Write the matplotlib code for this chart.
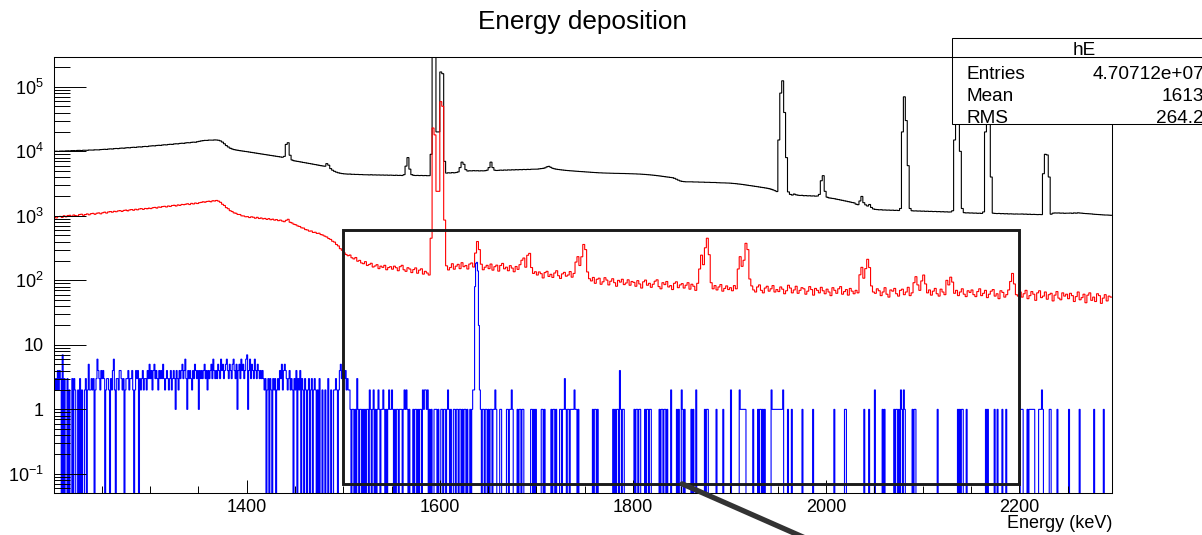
import numpy as np
import matplotlib
matplotlib.use("Agg")
import matplotlib.pyplot as plt
from matplotlib.ticker import FixedLocator, MultipleLocator, LogLocator, FuncFormatter, NullFormatter
from matplotlib.patches import Rectangle, ConnectionPatch
from matplotlib.lines import Line2D

plt.rcParams['font.family'] = ['Liberation Sans', 'DejaVu Sans']
plt.rcParams['mathtext.fontset'] = 'custom'
plt.rcParams['mathtext.rm'] = 'Liberation Sans'
plt.rcParams['mathtext.it'] = 'Liberation Sans:italic'
plt.rcParams['mathtext.bf'] = 'Liberation Sans:bold'

# ---------------- histogram binning ----------------
E_MIN = 1200          # keV, lower edge of first bin
BIN_WIDTH = 2         # keV, black and red spectra
BLUE_BIN_WIDTH = 1    # keV, coincidence spectrum

# ---------------- total spectrum (black), 2 keV bins ----------------
black_counts = (
    [10000, 10060, 9980, 10090, 10130, 10050, 10170, 10210, 10120, 10250, 10290, 10200, 10330, 10360, 10280, 10410, 10440, 10370, 10490, 10520, 10450, 10570, 10600, 10530, 10650]
    + [10700, 10770, 10710, 10860, 10920, 10860, 11010, 11080, 11010, 11170, 11240, 11170, 11330, 11400, 11330, 11500, 11570, 11500, 11670, 11740, 11670, 11850, 11920, 11850, 12050]
    + [12120, 12210, 12150, 12330, 12420, 12360, 12550, 12640, 12580, 12780, 12870, 12810, 13020, 13110, 13050, 13270, 13360, 13300, 13530, 13620, 13560, 13800, 13890, 13830, 14080]
    + [14300, 14500, 14650, 14800, 14750, 14950, 15000, 14900, 15050, 14980, 14850, 14500, 13900, 13100, 12300, 11700, 11200, 10900, 10650, 10500, 10380, 10250, 10150, 10050, 9950]
    + [9850, 9740, 9640, 9530, 9430, 9330, 9220, 9120, 9030, 8930, 8830, 8740, 8640, 8550, 8460, 8370, 8280, 8190, 8100, 8350, 12800, 13600, 8700, 7350, 7150]
    + [7060, 6980, 6890, 6810, 6720, 6640, 6560, 6480, 6400, 6320, 6240, 6160, 6080, 6000, 5930, 5880, 6450, 6100, 5400, 5100, 4900, 4760, 4650, 4580, 4520]
    + [4480, 4460, 4430, 4450, 4400, 4410, 4380, 4390, 4360, 4370, 4340, 4350, 4330, 4310, 4340, 4300, 4320, 4290, 4310, 4280, 4300, 4270, 4290, 4260, 4280]
    + [4260, 4240, 4270, 4230, 4250, 4220, 4350, 5900, 8000, 5300, 4350, 4250, 4220, 4240, 4210, 4230, 4200, 4220, 4190, 4200, 9000, 500000, 500000, 20000, 20000]
    + [170000, 160000, 7000, 4600, 4650, 4620, 4680, 4640, 4700, 4800, 5600, 6800, 6300, 5200, 4950, 5000, 4980, 5020, 4990, 5010, 4970, 5000, 4980, 5010, 5100]
    + [5600, 6800, 5600, 5100, 5050, 5080, 5120, 5090, 5140, 5110, 5160, 5130, 5180, 5150, 5200, 5170, 5220, 5190, 5240, 5210, 5260, 5230, 5280, 5300, 5270]
    + [5300, 5350, 5400, 5450, 5550, 5750, 5850, 5650, 5450, 5350, 5280, 5230, 5180, 5140, 5100, 5060, 5030, 5000, 4980, 4950, 4920, 4900, 4870, 4850, 4830]
    + [4800, 4780, 4760, 4730, 4710, 4690, 4670, 4650, 4640, 4620, 4610, 4600, 4590, 4580, 4570, 4560, 4560, 4550, 4540, 4540, 4530, 4520, 4510, 4500, 4490]
    + [4480, 4470, 4450, 4440, 4420, 4400, 4380, 4350, 4330, 4300, 4270, 4240, 4200, 4170, 4130, 4090, 4050, 4010, 3980, 3940, 3900, 3820, 3700, 3580, 3480]
    + [3420, 3390, 3370, 3380, 3360, 3370, 3350, 3340, 3350, 3330, 3320, 3330, 3310, 3300, 3310, 3290, 3280, 3290, 3270, 3260, 3250, 3260, 3240, 3230, 3220]
    + [3210, 3190, 3170, 3150, 3120, 3100, 3070, 3040, 3010, 2980, 2950, 2920, 2890, 2860, 2830, 2800, 2770, 2740, 2710, 2680, 2640, 2590, 2530, 2460, 2380]
    + [15000, 80000, 124000, 40000, 8000, 2350, 2150, 2100, 2180, 2120, 2090, 2070, 2080, 2050, 2060, 2040, 2050, 2030, 2040, 2020, 2030, 2150, 3500, 4200, 2400]
    + [1950, 1900, 1880, 1860, 1840, 1810, 1790, 1760, 1740, 1710, 1690, 1660, 1640, 1610, 1590, 1520, 1490, 1700, 2000, 1600, 1480, 1420, 1500, 1350, 1280]
    + [1260, 1250, 1240, 1245, 1230, 1235, 1225, 1230, 1220, 1225, 1215, 1220, 1210, 1300, 20000, 70000, 30000, 6000, 1300, 1200, 1190, 1195, 1185, 1190, 1180]
    + [1185, 1175, 1180, 1170, 1175, 1165, 1170, 1160, 1165, 1155, 1160, 1150, 1155, 1145, 1150, 1200, 15000, 50000, 40000, 10000, 1300, 1120, 1110, 1115, 1105]
    + [1110, 1100, 1105, 1095, 1100, 1090, 1150, 20000, 50000, 35000, 4000, 1100, 1090, 1085, 1090, 1080, 1085, 1075, 1080, 1070, 1075, 1070, 1065, 1070, 1065]
    + [1065, 1070, 1060, 1065, 1055, 1060, 1050, 1055, 1050, 1045, 1050, 1045, 4500, 9000, 8800, 4000, 1060, 1100, 1110, 1105, 1110, 1100, 1105, 1095, 1100]
    + [1100, 1105, 1095, 1110, 1100, 1115, 1105, 1100, 1090, 1085, 1080, 1075, 1070, 1060, 1055, 1050, 1045, 1040, 1035, 1030, 1030, 1025, 1020]
)

# ---------------- selected events (red), 2 keV bins ----------------
red_counts = (
    [950, 928, 972, 981, 944, 1003, 965, 1012, 1020, 978, 1031, 1004, 992, 1048, 1060, 1021, 1045, 1072, 1038, 1080, 1093, 1057, 1098, 1112, 1075]
    + [1118, 1142, 1104, 1150, 1163, 1139, 1178, 1158, 1192, 1205, 1170, 1214, 1229, 1196, 1236, 1252, 1221, 1266, 1240, 1279, 1295, 1258, 1302, 1287, 1318]
    + [1296, 1338, 1352, 1319, 1371, 1358, 1394, 1407, 1372, 1422, 1398, 1447, 1460, 1421, 1478, 1452, 1503, 1489, 1516, 1540, 1497, 1562, 1528, 1581, 1552]
    + [1596, 1618, 1652, 1627, 1671, 1689, 1652, 1716, 1698, 1733, 1688, 1620, 1512, 1448, 1341, 1290, 1203, 1168, 1112, 1096, 1052, 1048, 1001, 996, 968]
    + [972, 941, 966, 952, 918, 949, 910, 928, 897, 912, 880, 906, 871, 889, 858, 874, 842, 860, 831, 812, 852, 884, 796, 775, 741]
    + [726, 697, 684, 652, 646, 612, 604, 579, 583, 553, 557, 534, 538, 513, 503, 484, 470, 445, 431, 404, 392, 360, 342, 310, 293]
    + [268, 252, 241, 247, 224, 215, 226, 198, 204, 186, 181, 195, 170, 176, 184, 161, 167, 175, 152, 166, 159, 171, 146, 158, 163]
    + [149, 166, 157, 141, 163, 171, 146, 138, 157, 150, 132, 147, 156, 129, 144, 151, 125, 138, 130, 121, 450, 23000, 18000, 2400, 2400]
    + [59000, 50000, 860, 168, 145, 158, 181, 149, 166, 177, 152, 188, 163, 170, 150, 179, 186, 161, 265, 400, 300, 178, 146, 160, 171]
    + [152, 179, 144, 163, 172, 139, 170, 183, 151, 160, 141, 169, 155, 136, 164, 148, 175, 205, 222, 160, 245, 262, 158, 128, 136]
    + [121, 135, 127, 109, 132, 138, 115, 124, 111, 130, 141, 118, 107, 126, 133, 116, 121, 137, 112, 128, 192, 233, 170, 232, 360]
    + [300, 135, 106, 98, 111, 90, 104, 108, 87, 95, 110, 101, 85, 97, 106, 92, 81, 100, 94, 104, 86, 91, 102, 84, 96]
    + [93, 81, 99, 88, 76, 95, 101, 84, 90, 78, 87, 97, 102, 80, 74, 92, 86, 96, 79, 83, 72, 90, 95, 77, 85]
    + [89, 76, 84, 92, 73, 87, 81, 70, 90, 150, 246, 175, 320, 450, 250, 92, 74, 83, 71, 79, 86, 68, 75, 82, 72]
    + [77, 69, 83, 74, 150, 233, 165, 205, 375, 300, 105, 82, 71, 66, 79, 85, 70, 64, 76, 81, 68, 74, 83, 66, 72]
    + [67, 79, 73, 62, 69, 84, 76, 64, 71, 81, 63, 70, 77, 74, 61, 68, 80, 72, 59, 75, 70, 64, 78, 69, 62]
    + [73, 66, 58, 77, 70, 63, 74, 80, 61, 67, 72, 59, 75, 68, 62, 70, 64, 122, 159, 108, 152, 212, 158, 82, 66]
    + [63, 74, 69, 58, 66, 77, 61, 55, 71, 68, 75, 62, 57, 70, 73, 60, 66, 78, 58, 64, 92, 114, 85, 70, 98]
    + [121, 88, 64, 71, 59, 68, 75, 62, 57, 73, 66, 60, 100, 85, 112, 94, 63, 70, 58, 66, 74, 61, 56, 69, 65]
    + [71, 60, 56, 67, 74, 58, 63, 70, 54, 61, 68, 72, 57, 62, 52, 69, 65, 55, 60, 71, 96, 128, 88, 60, 57]
    + [66, 55, 62, 70, 52, 58, 67, 61, 49, 64, 69, 54, 57, 66, 51, 60, 63, 48, 59, 67, 53, 50, 64, 57, 61]
    + [52, 63, 58, 47, 56, 66, 50, 54, 61, 45, 59, 64, 49, 55, 47, 62, 58, 44, 53, 60, 48, 57, 55]
)

# ---------------- coincidence events (blue), 1 keV bins ----------------
blue_counts = (
    [3,2,3,2,4, 2,4,3,0,7, 0,3,0,0,3, 0,2,0,0,3, 0,3,2,0,0, 2,0,3,0,2, 0,0,2,3,0, 2,5,2,2,3, 2,3,0,2,3, 6,4,3,2,4]
    + [3,4,3,0,2, 3,3,2,0,3, 2,4,6,2,0, 3,3,2,4,4, 3,2,3,0,2, 3,3,4,2,3, 3,4,2,0,2, 4,3,4,0,3, 2,3,4,2,3, 3,2,4,3,5]
    + [3,4,2,4,5, 3,4,3,2,4, 3,4,3,5,3, 2,3,4,3,2, 3,4,2,3,4, 3,1,4,3,2, 4,3,4,5,3, 4,6,3,1,4, 3,4,3,2,4, 3,5,4,3,4]
    + [1,4,3,4,3, 4,5,3,4,2, 4,3,4,5,3, 6,4,3,4,3, 5,4,3,6,4, 5,3,4,5,6, 4,3,5,4,3, 5,6,4,3,5, 1,4,5,3,6, 4,5,3,4,6]
    + [7,1,4,6,3, 5,4,3,6,4, 3,5,4,3,4, 3,4,3,2,3, 0,2,3,0,3, 2,0,3,2,3, 0,2,3,2,4, 3,5,2,4,5, 4,3,2,3,4, 2,3,2,0,3]
    + [2,4,0,3,2, 4,0,3,2,0, 3,2,0,2,3, 0,2,3,0,2, 3,2,0,2,0, 3,0,0,2,0, 0,2,0,0,3, 0,0,2,0,0, 2,2,3,2,0, 2,4,5,3,4]
    + [4,3,4,2,3, 2,2,1,0,1, 1,0,1,0,3, 1,0,1,1,0, 1,0,1,0,1, 1,0,2,1,0, 1,2,0,1,0, 1,2,1,0,1, 1,2,1,0,1, 0,1,2,1,1]
    + [2,1,0,1,0, 1,1,0,1,1, 1,0,1,2,1, 2,1,0,1,0, 0,0,1,0,1, 1,0,1,0,1, 1,0,2,1,2, 2,1,2,0,1, 0,1,0,0,1, 1,1,0,1,0]
    + [0,1,1,0,1, 1,0,1,2,1, 0,1,0,0,1, 1,0,1,1,0, 1,1,0,1,0, 1,1,0,1,0, 0,1,0,1,2, 2,80,184,190,140, 20,2,1,0,1, 1,0,1,1,0]
    + [1,0,1,1,0, 1,1,2,1,0, 0,0,1,1,0, 0,0,0,0,1, 1,0,1,1,2, 1,0,0,0,0, 1,0,1,1,0, 1,1,0,0,0, 0,0,0,0,1, 1,0,1,0,1]
    + [0,0,0,0,0, 1,1,0,1,0, 0,0,0,0,0, 1,0,1,1,0, 1,0,0,0,1, 1,0,1,1,3, 1,0,1,1,0, 1,1,1,1,2, 1,1,0,1,0, 0,0,0,0,0]
    + [0,0,0,0,0, 0,0,0,1,0, 1,1,0,1,0, 0,0,0,0,0, 0,0,0,0,0, 0,0,0,0,1, 0,1,0,1,1, 0,4,1,0,1, 1,0,0,0,0, 0,0,0,0,0]
    + [0,1,0,1,1, 0,1,1,0,0, 0,0,1,0,1, 1,0,1,1,0, 0,0,0,0,0, 0,0,1,0,1, 1,0,1,1,0, 1,0,0,0,2, 0,0,0,0,0, 1,0,1,0,0]
    + [2,1,0,1,0, 0,0,0,0,0, 1,0,1,0,0, 2,0,0,0,0, 0,0,0,0,1, 0,1,1,0,0, 0,0,0,0,0, 0,1,0,0,0, 0,0,0,1,0, 0,0,0,0,0]
    + [0,2,0,0,0, 0,0,0,0,0, 2,1,1,1,1, 1,1,0,0,0, 0,0,0,0,1, 0,0,0,0,1, 0,1,1,0,1, 0,1,0,0,0, 0,0,0,2,1, 1,1,1,1,1]
    + [1,1,1,1,1, 2,0,0,0,0, 1,0,0,0,1, 0,0,0,0,0, 0,0,0,0,0, 1,0,0,0,0, 0,0,0,0,0, 0,1,0,0,0, 0,0,0,0,0, 0,0,0,0,0]
    + [0,0,0,0,0, 0,0,0,1,0, 0,0,0,0,0, 0,0,0,0,1, 1,0,0,0,0, 0,0,0,0,0, 0,0,0,0,0, 0,0,0,0,1, 0,0,0,0,1, 0,0,0,0,0]
    + [2,0,0,0,0, 0,0,0,1,0, 1,0,0,0,0, 0,0,0,0,0, 1,0,1,1,0, 1,0,2,1,0, 2,1,0,0,0, 0,0,0,0,1, 0,1,1,0,0, 0,0,0,0,0]
    + [0,0,0,0,0, 0,0,0,0,0, 0,0,0,0,0, 1,0,0,0,0, 0,0,0,0,0, 0,0,0,0,0, 0,0,0,0,0, 0,1,0,1,0, 1,1,0,0,0, 1,0,0,0,0]
    + [0,0,0,0,0, 0,0,0,0,0, 0,0,0,0,0, 1,0,1,0,0, 0,0,0,0,1, 0,0,1,0,0, 0,0,1,0,0, 0,1,0,0,0, 0,0,0,0,0, 0,0,0,0,0]
    + [0,1,1,1,0, 0,0,0,1,0, 1,1,1,1,1, 1,0,0,0,0, 1,1,1,2,1, 0,0,0,0,0, 0,1,1,0,0, 0,0,0,0,1, 0,0,0,0,0, 0,0,0,0,0]
    + [0,1,0,0,0, 0,0,0,0,0, 0,0,1,0,0, 0,0,0,0,0, 0,0,0,0,0, 0,0,1,0,0, 0,0,0,0,0, 0,0,1,0,0, 0,0,0,0,0, 0]
)

# axis ticks and the zoom box region
x_tick_values = [1400, 1600, 1800, 2000, 2200]
y_tick_values = [0.1, 1, 10, 1e2, 1e3, 1e4, 1e5]
zoom_box_x = [1500, 2200]
zoom_box_y = [0.07, 600]

# statistics box contents
stats_title = "hE"
stats_rows = [("Entries", "4.70712e+07"), ("Mean", "1613"), ("RMS", "264.2")]

edges = E_MIN + BIN_WIDTH * np.arange(len(black_counts) + 1)
blue_edges = E_MIN + BLUE_BIN_WIDTH * np.arange(len(blue_counts) + 1)

W, H = 1202, 535
fig = plt.figure(figsize=(W / 100, H / 100), dpi=100)
ax = fig.add_axes([53.5 / W, (H - 493.3) / H, (1112 - 53.5) / W, (493.3 - 57.3) / H])

ax.set_yscale('log')
ax.set_xlim(edges[0], edges[-1])
ax.set_ylim(0.05, 2.87e5)

# empty bins are sent below the frame, as ROOT does on a log axis
def for_log(vals):
    v = np.asarray(vals, dtype=float)
    return np.where(v > 0, v, 1e-4)

ax.stairs(for_log(black_counts), edges, color='black', lw=0.8, baseline=None)
ax.stairs(for_log(red_counts), edges, color='#ff0000', lw=0.8, baseline=None)
ax.stairs(for_log(blue_counts), blue_edges, color='#0000ff', lw=0.8, baseline=None)

# zoom box
ax.add_patch(Rectangle((zoom_box_x[0], zoom_box_y[0]), zoom_box_x[1] - zoom_box_x[0],
                       zoom_box_y[1] - zoom_box_y[0], fill=False, lw=2.1,
                       edgecolor='#1a1a1a', zorder=5))

# connector leaving the zoom box towards the detail view
con = ConnectionPatch(xyA=(1851, zoom_box_y[0]), coordsA=ax.transData,
                      xyB=(812 / W, -6 / H), coordsB=fig.transFigure,
                      color='#333333', lw=3.8, zorder=6, clip_on=False)
fig.add_artist(con)

# ticks
ax.xaxis.set_major_locator(FixedLocator(x_tick_values))
ax.xaxis.set_minor_locator(MultipleLocator(50))
ax.yaxis.set_major_locator(FixedLocator(y_tick_values))
ax.yaxis.set_minor_locator(LogLocator(base=10, subs=np.arange(2, 10), numticks=100))
ax.yaxis.set_minor_formatter(NullFormatter())

def log_label(v, pos):
    e = int(round(np.log10(v)))
    if e == 0:
        return '1'
    if e == 1:
        return '10'
    return r'$\mathdefault{10^{%d}}$' % e

ax.yaxis.set_major_formatter(FuncFormatter(log_label))

ax.tick_params(axis='x', which='major', direction='in', length=9.4, width=0.7,
               labelsize=13, pad=4)
ax.tick_params(axis='x', which='minor', direction='in', length=4.7, width=0.7)
ax.tick_params(axis='y', which='major', direction='in', length=23, width=0.7,
               labelsize=13, pad=7)
ax.tick_params(axis='y', which='minor', direction='in', length=11.5, width=0.7)
for s in ax.spines.values():
    s.set_linewidth(0.75)

# titles
fig.text(582.75 / W, 1 - 28.7 / H, "Energy deposition", ha='center', va='baseline',
         fontsize=18.8)
fig.text(1112 / W, 1 - 528 / H, "Energy (keV)", ha='right', va='baseline', fontsize=13)

# statistics box
bx0, by_top, by_bot, bx1 = 952.3, 38.3, 124.3, 1216
fig.add_artist(Rectangle((bx0 / W, 1 - by_bot / H), (bx1 - bx0) / W, (by_bot - by_top) / H,
                         transform=fig.transFigure, facecolor='white', edgecolor='black',
                         lw=0.75, zorder=10))
fig.add_artist(Line2D([bx0 / W, bx1 / W], [1 - 57 / H, 1 - 57 / H],
                      transform=fig.transFigure, color='black', lw=0.75, zorder=11))
fig.text((bx0 + bx1) / 2 / W, 1 - 55 / H, stats_title, ha='center', va='baseline',
         fontsize=13.7, zorder=12)
for i, (name, val) in enumerate(stats_rows):
    yb = 1 - (79 + 21.8 * i) / H
    fig.text(966.7 / W, yb, name, ha='left', va='baseline', fontsize=13.7, zorder=12)
    fig.text(1204 / W, yb, val, ha='right', va='baseline', fontsize=13.7, zorder=12)

fig.savefig("out.png", dpi=100)
